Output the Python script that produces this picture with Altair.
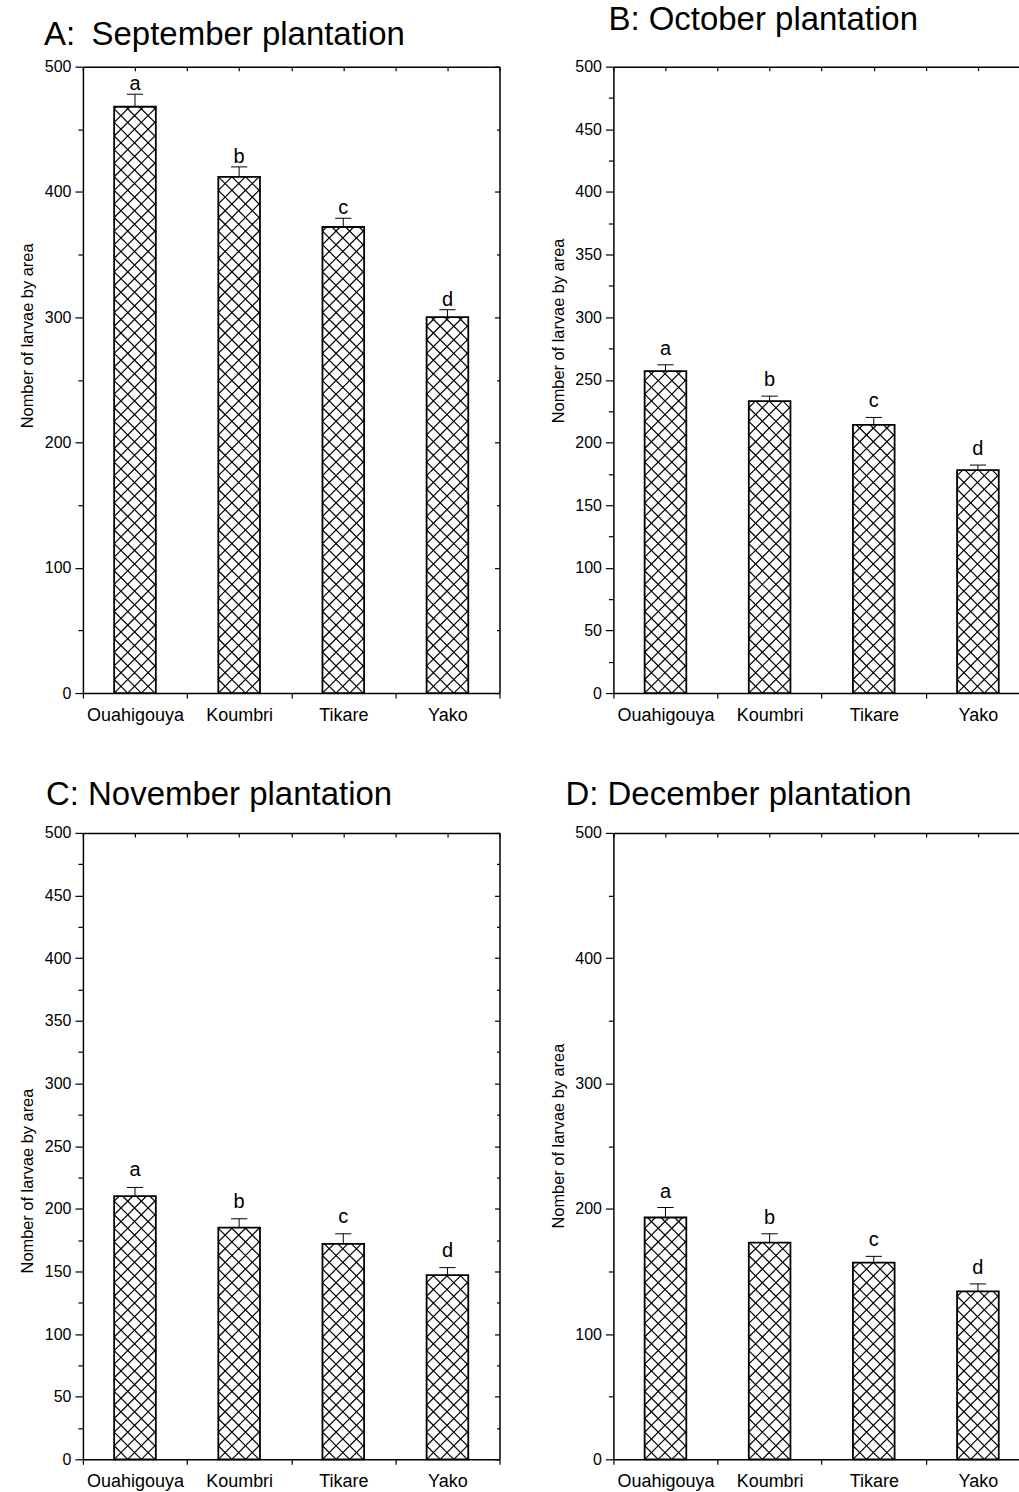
import altair as alt
import pandas as pd
import numpy as np

# ---------------- data ----------------
sites = ["Ouahigouya", "Koumbri", "Tikare", "Yako"]
letters = ["a", "b", "c", "d"]

sep_mean = [468, 412, 372, 300]
sep_err = [10, 8, 7, 6]
oct_mean = [257, 233, 214, 178]
oct_err = [5, 4, 6, 4]
nov_mean = [210, 185, 172, 147]
nov_err = [7, 7, 8, 6]
dec_mean = [193, 173, 157, 134]
dec_err = [8, 7, 5, 6]

titles = ["A:\u2002September plantation", "B: October plantation",
          "C: November plantation", "D: December plantation"]
y_title = "Nomber of larvae by area"

# ---------------- layout / style ----------------
SANS = "Liberation Sans, Arial, Helvetica, sans-serif"
BAND = 104.25          # px per category
W_LEFT = 417
W_RIGHT = 406
H = 627
PXY = H / 500.0
HALF = 0.2             # half bar width (category units)
CAP = 0.078            # half cap width
S = 13.6               # hatch spacing px
TFS = 33               # title font size


def hatch_segments(means):
    rows = []
    w = 2 * HALF * BAND
    for i, m in enumerate(means):
        xl = (i + 1) - HALF
        h = m * PXY
        kmin = int(np.floor(-w / S))
        kmax = int(np.ceil(h / S))
        for k in range(kmin, kmax + 1):
            c = k * S
            u1, u2 = max(0.0, -c), min(w, h - c)
            if u2 - u1 > 0.5:
                rows.append({"hx1": xl + u1 / BAND, "hy1": (u1 + c) / PXY,
                             "hx2": xl + u2 / BAND, "hy2": (u2 + c) / PXY})
        for k in range(0, int(np.ceil((h + w) / S)) + 1):
            c = k * S
            u1, u2 = max(0.0, c - h), min(w, c)
            if u2 - u1 > 0.5:
                rows.append({"hx1": xl + u1 / BAND, "hy1": (c - u1) / PXY,
                             "hx2": xl + u2 / BAND, "hy2": (c - u2) / PXY})
    return pd.DataFrame(rows)


def panel(title, toff, tdx, means, errs, step, right, ytitle_y, gap):
    width = W_RIGHT if right else W_LEFT
    xmax = 0.5 + width / BAND
    xs = alt.Scale(domain=[0.5, xmax], nice=False, zero=False)
    ys = alt.Scale(domain=[0, 500], nice=False)

    df = pd.DataFrame({"x": [1, 2, 3, 4], "site": sites, "mean": means, "err": errs,
                       "letter": letters})
    df["top"] = df["mean"] + df["err"]
    df["lo"] = df["x"] - HALF
    df["hi"] = df["x"] + HALF
    df["cl"] = df["x"] - CAP
    df["ch"] = df["x"] + CAP
    df["base"] = 0

    label_arr = "[" + ",".join("'%s'" % s for s in sites) + "]"
    bvals = [v for v in [0.5, 1.5, 2.5, 3.5, 4.5] if v <= xmax + 1e-6]
    tvals = [v for v in np.arange(0.5, 4.51, 0.5).tolist() if v <= xmax + 1e-6]
    major = list(range(0, 501, step))
    minor = [v for v in range(0, 501, step // 2) if v % step != 0]

    x_bottom = alt.Axis(orient="bottom", values=bvals, title=None,
                        labelExpr="datum.value < 4 ? %s[floor(datum.value)] : ''" % label_arr,
                        labelOffset=BAND / 2, labelFlush=False, labelOverlap=False,
                        labelBound=False, labelFont=SANS, labelFontSize=18,
                        labelPadding=8, tickSize=5, grid=False, domain=True)
    x_top_ticks = alt.Axis(orient="top", values=tvals, title=None, labels=False,
                           domain=False, tickSize=4, offset=-4, grid=False)
    x_top_dom = alt.Axis(orient="top", title=None, labels=False, ticks=False,
                         domain=True, grid=False)
    y_major = alt.Axis(orient="left", values=major, title=y_title, titleFont=SANS,
                       titleFontSize=16.4, titleFontWeight="normal", titleX=-50,
                       titleY=ytitle_y, titleAngle=270, titleAlign="center",
                       titleBaseline="alphabetic", labelFont=SANS, labelFontSize=16,
                       labelPadding=4, tickSize=8, grid=False, domain=True)
    y_minor = alt.Axis(orient="left", values=minor, title=None, labels=False,
                       tickSize=5, domain=False, grid=False)
    y_right_major = alt.Axis(orient="right", values=major, title=None, labels=False,
                             tickSize=5, offset=-5, domain=False, grid=False)
    y_right_minor = alt.Axis(orient="right", values=minor, title=None, labels=False,
                             tickSize=3, offset=-3, domain=False, grid=False)
    y_right_dom = alt.Axis(orient="right", title=None, labels=False, ticks=False,
                           domain=True, grid=False)

    base = alt.Chart(df)
    bars = base.mark_bar(fill="white", stroke="black", strokeWidth=1.8).encode(
        x=alt.X("lo:Q", scale=xs, axis=x_bottom), x2="hi",
        y=alt.Y("mean:Q", scale=ys, axis=y_major), y2="base")
    hatch = alt.Chart(hatch_segments(means)).mark_rule(color="black", strokeWidth=1.2).encode(
        x=alt.X("hx1:Q", scale=xs, axis=x_top_ticks), x2="hx2",
        y=alt.Y("hy1:Q", scale=ys, axis=y_minor), y2="hy2")
    err = base.mark_rule(color="black", strokeWidth=1).encode(
        x=alt.X("x:Q", scale=xs, axis=x_top_dom),
        y=alt.Y("mean:Q", scale=ys, axis=None if right else y_right_major), y2="top")
    cap = base.mark_rule(color="black", strokeWidth=1).encode(
        x=alt.X("cl:Q", scale=xs, axis=None), x2="ch",
        y=alt.Y("top:Q", scale=ys, axis=None if right else y_right_minor))
    txt = base.mark_text(font=SANS, fontSize=20, baseline="alphabetic", dy=-gap,
                         color="black").encode(
        x=alt.X("x:Q", scale=xs, axis=None),
        y=alt.Y("top:Q", scale=ys, axis=None if right else y_right_dom),
        text="letter:N")

    return alt.layer(bars, hatch, err, cap, txt).resolve_axis(
        x="independent", y="independent").properties(
        width=width, height=H,
        title=alt.Title(title, anchor="start", font=SANS, fontSize=TFS,
                        fontWeight="normal", offset=toff, dx=tdx,
                        baseline="alphabetic", frame="group", color="black"))


pA = panel(titles[0], -19, -39, sep_mean, sep_err, 100, False, 269, 4)
pB = panel(titles[1], -4, -5, oct_mean, oct_err, 50, True, 264, 10)
pC = panel(titles[2], -13, -37, nov_mean, nov_err, 50, False, 348, 11)
pD = panel(titles[3], -13, -48, dec_mean, dec_err, 100, True, 303, 10)

chart = alt.concat(pA, pB, pC, pD, columns=2, spacing={"row": 140, "column": 114},
                   bounds="flush").properties(
    padding={"left": 20, "top": 3, "right": 0, "bottom": 0}, background="white"
).configure_view(stroke=None).configure_axis(
    domainColor="black", domainWidth=1.5, tickColor="black", tickWidth=1.2,
    labelColor="black")

chart.save("out.html", embed_options={"renderer": "svg", "actions": False})
